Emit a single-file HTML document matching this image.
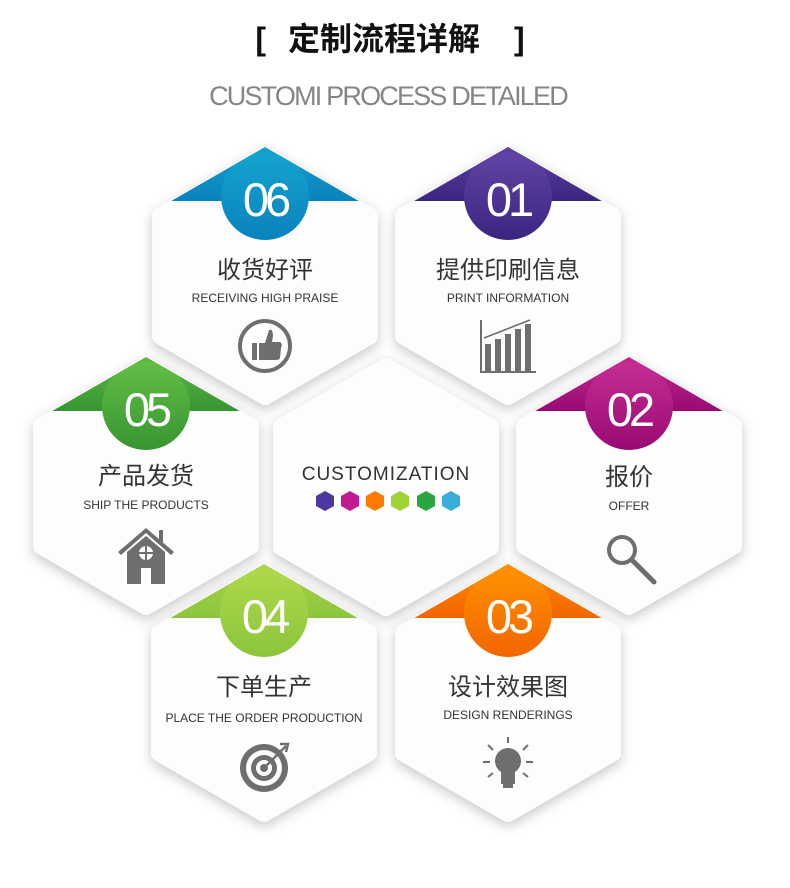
<!DOCTYPE html>
<html><head><meta charset="utf-8"><style>
html,body{margin:0;padding:0;background:#fff;}
svg{display:block}
</style></head><body>
<svg width="790" height="888" viewBox="0 0 790 888" xmlns="http://www.w3.org/2000/svg">
<defs>
<filter id="sh" x="-30%" y="-30%" width="160%" height="160%"><feDropShadow dx="0" dy="4" stdDeviation="6" flood-color="#000" flood-opacity="0.22"/></filter>
<clipPath id="hc"><polygon points="0,-129 112,-64.5 112,64.5 0,129 -112,64.5 -112,-64.5"/></clipPath>
<linearGradient id="g06" x1="0" y1="0" x2="0" y2="1"><stop offset="0" stop-color="#14a4cf"/><stop offset="1" stop-color="#0a82bd"/></linearGradient>
<linearGradient id="g01" x1="0" y1="0" x2="0" y2="1"><stop offset="0" stop-color="#6244a6"/><stop offset="1" stop-color="#3b2580"/></linearGradient>
<linearGradient id="g05" x1="0" y1="0" x2="0" y2="1"><stop offset="0" stop-color="#62be45"/><stop offset="1" stop-color="#379532"/></linearGradient>
<linearGradient id="g02" x1="0" y1="0" x2="0" y2="1"><stop offset="0" stop-color="#c52e93"/><stop offset="1" stop-color="#980a73"/></linearGradient>
<linearGradient id="g04" x1="0" y1="0" x2="0" y2="1"><stop offset="0" stop-color="#afd84a"/><stop offset="1" stop-color="#8cc53c"/></linearGradient>
<linearGradient id="g03" x1="0" y1="0" x2="0" y2="1"><stop offset="0" stop-color="#ff9200"/><stop offset="1" stop-color="#f26500"/></linearGradient>
<g id="hex"><polygon points="0,-121 104.8,-60.5 104.8,60.5 0,121 -104.8,60.5 -104.8,-60.5" fill="#fdfdfd" stroke="#fdfdfd" stroke-width="16" stroke-linejoin="round"/></g>
</defs>

<text x="390" y="50" text-anchor="middle" font-family="'Liberation Sans','Noto Sans CJK SC',sans-serif" font-size="32" font-weight="bold" fill="#111">[<tspan dx="22">定制流程详解</tspan><tspan dx="34">]</tspan></text>
<text x="388" y="105" text-anchor="middle" font-family="'Liberation Sans',sans-serif" font-size="27" fill="#858585" letter-spacing="-1.8">CUSTOMI PROCESS DETAILED</text>

<g font-family="'Liberation Sans','Noto Sans CJK SC',sans-serif" text-anchor="middle">
<g filter="url(#sh)">
<use href="#hex" x="265" y="276"/><use href="#hex" x="508" y="276"/>
<use href="#hex" x="146" y="486"/><use href="#hex" x="386" y="487"/><use href="#hex" x="629" y="486"/>
<use href="#hex" x="264" y="693"/><use href="#hex" x="508" y="693"/>
</g>

<g transform="translate(265,276)"><g clip-path="url(#hc)" fill="url(#g06)"><rect x="-130" y="-135" width="260" height="60"/><circle cx="0" cy="-80" r="44"/></g><text y="-60" font-size="47" fill="#fff" letter-spacing="-4">06</text><text y="2" font-size="24" fill="#333">收货好评</text><text y="26" font-size="12" fill="#333">RECEIVING HIGH PRAISE</text>
<g transform="translate(0,70)"><circle r="25" fill="none" stroke="#6d6e70" stroke-width="4"/><rect x="-13" y="-3" width="5" height="17" fill="#6d6e70"/><path d="M-6,-3 L0,-3 L4,-16 Q8,-18 8,-10 L7,-4 L15,-4 Q18,-2 16,2 L15,12 Q14,14 11,14 L-6,14 Z" fill="#6d6e70"/></g></g>

<g transform="translate(508,276)"><g clip-path="url(#hc)" fill="url(#g01)"><rect x="-130" y="-135" width="260" height="60"/><circle cx="0" cy="-80" r="44"/></g><text y="-60" font-size="47" fill="#fff" letter-spacing="-4">01</text><text y="2" font-size="24" fill="#333">提供印刷信息</text><text y="26" font-size="12" fill="#333">PRINT INFORMATION</text>
<g transform="translate(0,70)" fill="#6d6e70"><rect x="-28" y="-26" width="2" height="52"/><rect x="-28" y="25" width="56" height="2"/><rect x="-23" y="-2" width="6" height="27"/><rect x="-13" y="-7" width="6" height="32"/><rect x="-3" y="-12" width="6" height="37"/><rect x="7" y="-17" width="6" height="42"/><rect x="17" y="-22" width="6" height="47"/><path d="M-24,-8 L22,-26" stroke="#6d6e70" stroke-width="1.5"/></g></g>

<g transform="translate(146,486)"><g clip-path="url(#hc)" fill="url(#g05)"><rect x="-130" y="-135" width="260" height="60"/><circle cx="0" cy="-80" r="44"/></g><text y="-60" font-size="47" fill="#fff" letter-spacing="-4">05</text><text y="-2" font-size="24" fill="#333">产品发货</text><text y="23" font-size="12" fill="#333">SHIP THE PRODUCTS</text>
<g transform="translate(0,72)" fill="#6d6e70"><path d="M-28,-6 L0,-30 L28,-6 L25,-3 L0,-25 L-25,-3 Z"/><rect x="13" y="-28" width="4" height="12"/><path d="M-19,-6 L0,-22 L19,-6 L19,26 L5,26 L5,10 L-5,10 L-5,26 L-19,26 Z"/><circle cx="0" cy="-5" r="7" fill="#fdfdfd"/><rect x="-1" y="-12" width="2" height="14" fill="#6d6e70"/><rect x="-7" y="-6" width="14" height="2" fill="#6d6e70"/></g></g>

<g transform="translate(386,487)"><text y="-7" font-size="19" fill="#333" letter-spacing="1">CUSTOMIZATION</text>
<g transform="translate(0,14)">
<polygon points="-61,-10 -52,-5 -52,5 -61,10 -70,5 -70,-5" fill="#4e37a0"/>
<polygon points="-36,-10 -27,-5 -27,5 -36,10 -45,5 -45,-5" fill="#c21a93"/>
<polygon points="-11,-10 -2,-5 -2,5 -11,10 -20,5 -20,-5" fill="#ff7a00"/>
<polygon points="14,-10 23,-5 23,5 14,10 5,5 5,-5" fill="#9fd335"/>
<polygon points="40,-10 49,-5 49,5 40,10 31,5 31,-5" fill="#2aa640"/>
<polygon points="65,-10 74,-5 74,5 65,10 56,5 56,-5" fill="#3aaed8"/></g></g>

<g transform="translate(629,486)"><g clip-path="url(#hc)" fill="url(#g02)"><rect x="-130" y="-135" width="260" height="60"/><circle cx="0" cy="-80" r="44"/></g><text y="-60" font-size="47" fill="#fff" letter-spacing="-4">02</text><text y="-1" font-size="24" fill="#333">报价</text><text y="24" font-size="12" fill="#333">OFFER</text>
<g transform="translate(0,72)"><circle cx="-7" cy="-8" r="13" fill="none" stroke="#6d6e70" stroke-width="4"/><path d="M3,2 L25,24" stroke="#6d6e70" stroke-width="5" stroke-linecap="round"/></g></g>

<g transform="translate(264,693)"><g clip-path="url(#hc)" fill="url(#g04)"><rect x="-130" y="-135" width="260" height="60"/><circle cx="0" cy="-80" r="44"/></g><text y="-60" font-size="47" fill="#fff" letter-spacing="-4">04</text><text y="2" font-size="24" fill="#333">下单生产</text><text y="29" font-size="12" fill="#333">PLACE THE ORDER PRODUCTION</text>
<g transform="translate(0,75)"><circle r="24" fill="#6d6e70"/><circle r="18" fill="#fdfdfd"/><circle r="13" fill="#6d6e70"/><circle r="8" fill="#fdfdfd"/><circle r="4" fill="#6d6e70"/><path d="M0,0 L22,-22" stroke="#6d6e70" stroke-width="2.5"/><path d="M16,-24 L24,-24 L22,-16" fill="none" stroke="#6d6e70" stroke-width="2.5"/></g></g>

<g transform="translate(508,693)"><g clip-path="url(#hc)" fill="url(#g03)"><rect x="-130" y="-135" width="260" height="60"/><circle cx="0" cy="-80" r="44"/></g><text y="-60" font-size="47" fill="#fff" letter-spacing="-4">03</text><text y="2" font-size="24" fill="#333">设计效果图</text><text y="26" font-size="12" fill="#333">DESIGN RENDERINGS</text>
<g transform="translate(0,72)" fill="#6d6e70"><circle cx="0" cy="-4" r="13"/><rect x="-7" y="7" width="14" height="12"/><rect x="-5" y="19" width="10" height="4"/><g stroke="#6d6e70" stroke-width="2"><path d="M0,-22 V-28 M15,-15 L20,-20 M-15,-15 L-20,-20 M18,-3 H25 M-18,-3 H-25 M15,8 L20,12 M-15,8 L-20,12"/></g></g></g>
</g>
</svg>
</body></html>
